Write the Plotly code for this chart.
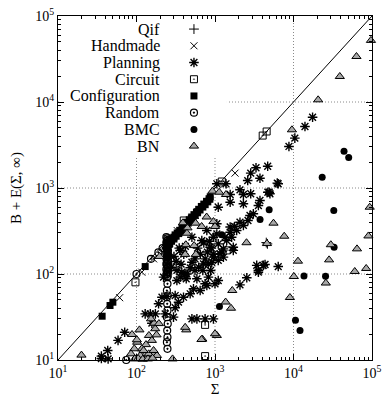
import plotly.graph_objects as go

# ---------------- data ----------------
qif_x = [4500, 4650]
qif_y = [232, 224]

hand_x = [61, 117, 1800, 330, 1300, 165, 560]
hand_y = [53, 105, 1490, 320, 1100, 150, 480]

plan_x = [17500, 14000, 10400, 8750, 4690, 3330, 2850, 3740, 2610, 6210, 4910, 2080, 2300, 1560, 1380,
          5010, 3570, 2790, 2300, 2080, 1770, 1560, 1410, 1630, 1280, 1160, 1710, 1100, 4340, 6390,
          3570, 2540, 2080, 1100, 748, 748, 588, 508, 955,
          150, 174, 129, 157, 191, 296, 232, 311, 343, 397, 483, 532, 647, 787, 360, 327, 417, 588, 824, 1000,
          35.7, 43, 58.2, 70.7, 211, 244,
          221, 508, 378, 556, 430, 311,
          508, 679, 866, 556, 713, 483, 910, 955, 787, 1055, 439, 327,
          1055, 1560, 1100, 2850, 3740, 4710, 6390, 3080, 2630, 2300, 1890, 1560, 1340, 1100, 955, 1280,
          1710, 1220, 1055, 3400, 4120, 3570,
          43.5, 35.7,
          600, 650, 720, 800, 850, 900, 950, 620, 700, 750, 820, 880,
          280, 300, 320, 350, 370, 400, 420, 360]
plan_y = [6650, 5190, 3800, 3040, 1790, 1720, 1490, 1300, 1220, 1140, 893, 953, 840, 840, 1120,
          857, 626, 479, 655, 400, 357, 306, 245, 268, 196, 172, 188, 144, 129, 122,
          105, 90.4, 74.8, 83.9, 76.9, 30.1, 30.1, 30.1, 30.1,
          34.4, 34.4, 34.4, 26.8, 45, 31.5, 34.4, 40.5, 47, 53.7, 58.9, 67.3, 64.3, 73.5, 91.9, 83.9, 100, 87.9, 91.9, 76.9,
          11.1, 12.9, 16.9, 21, 53.7, 54.7,
          91.9, 137, 105, 110, 87.9, 56.2,
          268, 245, 205, 150, 131, 118, 137, 268, 321, 384, 100, 110,
          1120, 684, 598, 857, 716, 893, 1120, 501, 419, 367, 321, 352, 268, 224, 157, 157,
          205, 180, 292, 126, 126, 110,
          10.3, 10.4,
          200, 170, 230, 180, 240, 200, 170, 120, 110, 150, 130, 110,
          120, 160, 140, 200, 130, 170, 210, 188]

circ_x = [97, 4550, 4050, 1220, 748, 748, 400, 1410]
circ_y = [80, 4540, 4070, 1190, 25.6, 11.1, 419, 188]

conf_x = [36.5, 46, 50, 129, 240, 255, 270, 290, 310, 330, 355, 380, 410, 440, 470, 505, 540, 580,
          620, 670, 720, 780, 840, 870, 260, 300, 350, 420, 500, 600, 245, 250,
          250, 265, 280, 300, 320, 345, 370, 395, 425, 455, 490, 525, 560, 600, 645, 700, 750, 810, 860]
conf_y = [32.3, 43, 47, 122, 215, 232, 248, 262, 285, 300, 322, 345, 372, 400, 428, 460, 490, 525,
          565, 610, 650, 700, 750, 790, 220, 268, 305, 370, 445, 530, 190, 160,
          205, 225, 240, 255, 275, 295, 315, 340, 362, 390, 420, 450, 480, 515, 555, 600, 640, 690, 740]

rand_x = [240, 252, 240, 252, 240, 252, 240, 252, 240, 252, 240, 252, 240, 252, 240,
          246, 244, 250, 246, 244, 250, 246, 244, 250, 246, 244, 250, 246, 244, 250,
          246, 248, 244, 250, 246, 248, 244, 250, 246, 248, 244, 248,
          100, 74, 153, 190, 215]
rand_y = [268, 250, 232, 216, 200, 187, 174, 162, 151, 140, 131, 122, 113, 105, 98,
          259, 241, 224, 208, 193, 180, 168, 156, 145, 135, 126, 117, 109, 101, 95,
          91.9, 76.9, 64.3, 56.2, 45, 37.7, 31.5, 26.4, 22, 18.4, 16.1, 13.5,
          100, 10, 150, 178, 200]

bmc_x = [44000, 50500, 23200, 4900, 3750, 1220, 32600, 32900, 13600, 25600, 1140, 10600, 12100]
bmc_y = [2680, 2260, 1330, 560, 430, 286, 547, 205, 95, 94, 42, 29, 22]

bn_x = [97000, 63400, 38900, 20600, 9550, 93500, 90000, 64400, 29900, 28400, 11400, 84300, 60300,
        10100, 25800, 9000, 5560, 7620, 2520, 4590, 1660, 1365, 1600, 1055, 690, 430, 1380, 927,
        1130, 782, 566, 955, 676, 446, 1000, 439, 417, 570, 197, 542, 425, 390,
        19.9, 87.7, 109, 144, 180, 173, 168, 153, 193, 102, 132, 117, 93.8, 85.1, 131, 165, 288,
        157, 182, 112, 143, 123, 165, 672, 1000, 101, 417, 95, 105, 120, 140, 160]
bn_y = [52000, 33800, 19800, 10600, 4750, 598, 277, 196, 219, 146, 141, 116, 107,
        93.5, 78.5, 53.3, 390, 275, 231, 226, 64.3, 47.2, 40, 19.3, 17.5, 22.4, 840, 918,
        893, 460, 390, 407, 357, 344, 357, 298, 169, 169, 160, 214, 219, 394,
        11.4, 19.8, 22.4, 19.3, 19.6, 23.1, 26.8, 30.1, 26.5, 16.1, 15.1, 13.5, 13.5, 11.8, 11.7, 11.5, 10.3,
        16.9, 11.3, 11.3, 11.8, 12.9, 12.9, 17.3, 20.2, 17.2, 24, 10.3, 10.4, 10.2, 10.3, 10.5]

names = ["Qif", "Handmade", "Planning", "Circuit", "Configuration", "Random", "BMC", "BN"]
xs_all = [qif_x, hand_x, plan_x, circ_x, conf_x, rand_x, bmc_x, bn_x]
ys_all = [qif_y, hand_y, plan_y, circ_y, conf_y, rand_y, bmc_y, bn_y]

tick_vals = [10, 100, 1000, 10000, 100000]
tick_text = ["10<sup>1</sup>", "10<sup>2</sup>", "10<sup>3</sup>", "10<sup>4</sup>", "10<sup>5</sup>"]
grid_vals = [100, 1000, 10000]
diag = [10, 100000]

# ---------------- styles ----------------
K = "black"
styles = [
    dict(symbol="cross-thin-open", size=7, color=K, line=dict(width=1, color=K)),
    dict(symbol="x-thin-open", size=7, color=K, line=dict(width=1, color=K)),
    dict(symbol="asterisk-open", size=8, color=K, line=dict(width=1.4, color=K)),
    dict(symbol="square-open-dot", size=7, color=K, line=dict(width=1, color=K)),
    dict(symbol="square", size=7, color=K, line=dict(width=0, color=K)),
    dict(symbol="circle-open-dot", size=7, color=K, line=dict(width=1.2, color=K)),
    dict(symbol="circle", size=7, color=K, line=dict(width=0, color=K)),
    dict(symbol="triangle-up", size=8, color="#a8a8a8", line=dict(width=1, color=K)),
]

FONT = "Liberation Serif"
GRID = dict(color="#8a8a8a", width=1, dash="1px,2px")
fig = go.Figure()

# dotted grid as shapes (below traces), then a white box hiding it behind the key
for v in grid_vals:
    fig.add_shape(type="line", xref="x", yref="y domain", x0=v, x1=v, y0=0, y1=1,
                  line=GRID, layer="below")
    fig.add_shape(type="line", xref="x domain", yref="y", x0=0, x1=1, y0=v, y1=v,
                  line=GRID, layer="below")
fig.add_shape(type="rect", xref="x domain", yref="y domain", x0=0.003, x1=0.538,
              y0=0.593, y1=0.997, fillcolor="white", line=dict(width=0), layer="below")

fig.add_trace(go.Scatter(x=diag, y=diag, mode="lines", line=dict(color=K, width=1),
                         hoverinfo="skip", showlegend=False))

for nm, xs, ys, st in zip(names, xs_all, ys_all, styles):
    fig.add_trace(go.Scatter(x=xs, y=ys, mode="markers", marker=st, name=nm,
                             showlegend=False, cliponaxis=False))

# ---------------- key (gnuplot style: text then symbol) ----------------
key_top, key_step = 0.962, 0.0486
key_sym_x, key_txt_x = 0.433, 0.331
for i, (nm, st) in enumerate(zip(names, styles)):
    yy = key_top - i * key_step
    fig.add_trace(go.Scatter(x=[10 ** (1 + 4 * key_sym_x)], y=[10 ** (1 + 4 * yy)], mode="markers",
                             marker=st, showlegend=False, cliponaxis=False, hoverinfo="skip"))
    fig.add_annotation(text=nm, x=key_txt_x, y=yy, xref="x domain", yref="y domain",
                       xanchor="right", yanchor="middle", showarrow=False,
                       font=dict(family=FONT, size=16, color=K))

minor_vals = [m * 10 ** e for e in range(1, 5) for m in range(2, 10)]
axis_common = dict(
    type="log", range=[1, 5], tickmode="array", tickvals=tick_vals, ticktext=tick_text,
    ticks="inside", ticklen=6, tickcolor=K, tickwidth=1,
    showline=True, linecolor=K, linewidth=1, mirror="allticks",
    showgrid=False, zeroline=False, automargin=False,
    minor=dict(tickmode="array", tickvals=minor_vals, ticks="inside", ticklen=3,
               tickcolor=K, showgrid=False),
    tickfont=dict(family=FONT, size=14, color=K),
)

fig.update_layout(
    width=384, height=397,
    margin=dict(l=58, r=12, t=16, b=37, autoexpand=False),
    paper_bgcolor="white", plot_bgcolor="white",
    font=dict(family=FONT, color=K),
    xaxis=dict(**axis_common, title=dict(text="Σ", font=dict(family=FONT, size=15), standoff=4)),
    yaxis=dict(**axis_common, title=dict(text="B + E(Σ, ∞)", font=dict(family=FONT, size=15), standoff=10)),
    showlegend=False,
)

fig.write_html("out.html")
